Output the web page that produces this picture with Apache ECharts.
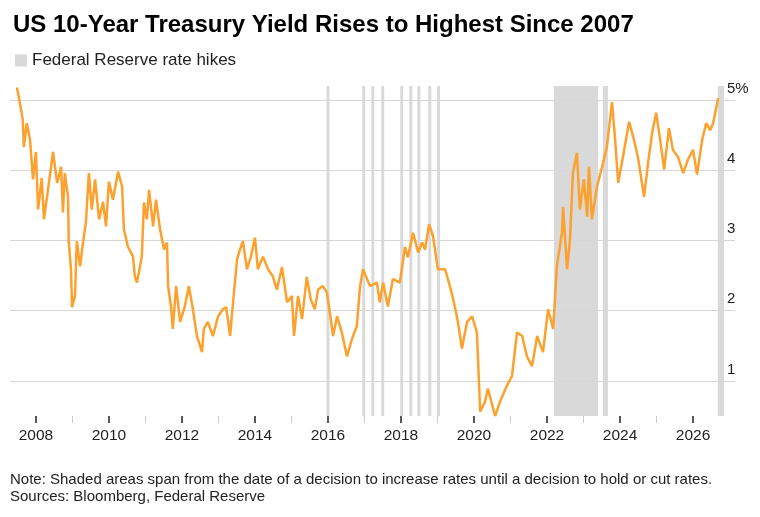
<!DOCTYPE html>
<html><head><meta charset="utf-8">
<script src="https://cdn.jsdelivr.net/npm/echarts@6/dist/echarts.min.js"></script>
<style>body{margin:0;background:#fff}#c{width:760px;height:517px}</style></head>
<body><div id="c"></div>
<script>
const years = [2007.48,2007.56,2007.64,2007.67,2007.75,2007.84,2007.92,2008.00,2008.06,2008.16,2008.22,2008.33,2008.47,2008.58,2008.69,2008.74,2008.79,2008.88,2008.90,2008.96,2008.99,2009.07,2009.12,2009.21,2009.29,2009.37,2009.45,2009.53,2009.62,2009.73,2009.84,2009.92,2010.00,2010.11,2010.25,2010.36,2010.41,2010.52,2010.66,2010.71,2010.77,2010.90,2010.96,2011.04,2011.10,2011.21,2011.29,2011.40,2011.51,2011.59,2011.62,2011.70,2011.75,2011.84,2011.95,2012.08,2012.19,2012.30,2012.41,2012.55,2012.60,2012.71,2012.85,2012.99,2013.12,2013.21,2013.32,2013.40,2013.51,2013.59,2013.67,2013.78,2013.89,2014.00,2014.08,2014.22,2014.36,2014.49,2014.60,2014.74,2014.88,2015.01,2015.07,2015.18,2015.29,2015.42,2015.53,2015.64,2015.73,2015.86,2015.97,2016.05,2016.14,2016.25,2016.38,2016.52,2016.66,2016.79,2016.88,2016.96,2017.15,2017.34,2017.42,2017.51,2017.64,2017.78,2017.97,2018.11,2018.19,2018.33,2018.47,2018.58,2018.66,2018.77,2018.88,2019.01,2019.21,2019.34,2019.45,2019.56,2019.67,2019.81,2019.95,2020.08,2020.17,2020.30,2020.38,2020.58,2020.71,2020.90,2021.04,2021.18,2021.32,2021.45,2021.59,2021.73,2021.89,2022.03,2022.17,2022.27,2022.41,2022.44,2022.55,2022.63,2022.71,2022.82,2022.90,2023.01,2023.10,2023.15,2023.23,2023.37,2023.51,2023.64,2023.78,2023.86,2023.95,2024.08,2024.25,2024.36,2024.49,2024.66,2024.77,2024.88,2024.99,2025.10,2025.21,2025.34,2025.45,2025.59,2025.73,2025.86,2026.00,2026.11,2026.25,2026.36,2026.47,2026.55,2026.69];
const yields = [5.18,4.96,4.72,4.33,4.67,4.43,3.87,4.26,3.44,3.89,3.30,3.72,4.26,3.82,4.05,3.40,3.96,3.62,2.97,2.59,2.05,2.21,2.99,2.63,2.97,3.26,3.96,3.44,3.87,3.30,3.55,3.20,3.84,3.58,3.98,3.77,3.16,2.91,2.77,2.49,2.40,2.77,3.54,3.30,3.72,3.20,3.58,3.16,2.87,2.97,2.35,2.06,1.74,2.35,1.84,2.06,2.35,2.02,1.64,1.41,1.74,1.84,1.64,1.92,2.02,2.05,1.64,2.12,2.73,2.87,2.99,2.59,2.77,3.04,2.59,2.77,2.59,2.49,2.30,2.62,2.12,2.21,1.64,2.21,1.88,2.48,2.16,2.02,2.30,2.35,2.26,1.98,1.64,1.92,1.69,1.35,1.60,1.78,2.35,2.59,2.35,2.40,2.12,2.40,2.06,2.45,2.40,2.91,2.76,3.11,2.83,2.97,2.87,3.23,3.06,2.59,2.59,2.35,2.12,1.84,1.46,1.84,1.92,1.69,0.56,0.70,0.89,0.50,0.70,0.93,1.07,1.69,1.64,1.35,1.21,1.64,1.41,2.02,1.74,2.63,3.11,3.48,2.59,3.01,3.96,4.25,3.44,3.87,3.34,4.05,3.30,3.77,4.05,4.33,4.97,4.48,3.82,4.19,4.69,4.48,4.19,3.62,4.11,4.53,4.82,4.43,4.01,4.60,4.29,4.19,3.96,4.15,4.29,3.94,4.43,4.67,4.57,4.67,5.03];
const hikeStarts = [2015.96,2016.94,2017.19,2017.46,2017.98,2018.23,2018.45,2018.75,2018.99,2022.19,2023.53,2026.68];
const hikeEnds   = [2016.04,2017.02,2017.27,2017.54,2018.06,2018.31,2018.53,2018.83,2019.07,2023.40,2023.67,2026.85];
const majorYears = [2008,2010,2012,2014,2016,2018,2020,2022,2024,2026];
const minorYears = [2009,2011,2013,2015,2017,2019,2021,2023,2025];
const yTicks = [1,2,3,4,5];

const chart = echarts.init(document.getElementById('c'));
const font = 'Liberation Sans, Arial, sans-serif';
chart.setOption({
  animation:false,
  textStyle:{fontFamily:font},
  title:{text:'US 10-Year Treasury Yield Rises to Highest Since 2007',left:8,top:8,
    textStyle:{fontSize:24,fontWeight:'bold',color:'#000',fontFamily:font}},
  legend:{left:10,top:47,itemWidth:12,itemHeight:12,icon:'rect',itemGap:8,
    textStyle:{fontSize:17,color:'#222'},data:[{name:'Federal Reserve rate hikes',itemStyle:{color:'#d9d9d9'}}]},
  graphic:[
    {type:'text',left:10,top:472,style:{text:'Note: Shaded areas span from the date of a decision to increase rates until a decision to hold or cut rates.',fontSize:15,fill:'#222',fontFamily:font}},
    {type:'text',left:10,top:489,style:{text:'Sources: Bloomberg, Federal Reserve',fontSize:15,fill:'#222',fontFamily:font}}
  ],
  grid:{left:10,right:25,top:86,bottom:101},
  xAxis:[{type:'value',min:2007.29,max:2027.15,
    axisLine:{show:false},splitLine:{show:false},
    axisTick:{show:true,length:7,customValues:majorYears,lineStyle:{color:'#222',width:1.5}},
    axisLabel:{customValues:majorYears,fontSize:15.5,color:'#222',margin:12,formatter:v=>String(v)}},
   {type:'value',min:2007.29,max:2027.15,position:'bottom',
    axisLine:{show:false},splitLine:{show:false},axisLabel:{show:false},
    axisTick:{show:true,length:7,customValues:minorYears,lineStyle:{color:'#ccc',width:1}}}],
  yAxis:{type:'value',min:0.5,max:5.2,position:'right',
    axisLine:{show:false},axisTick:{show:false},splitLine:{show:false},
    axisLabel:{customValues:yTicks,fontSize:15,color:'#222',margin:-8,align:'left',verticalAlign:'bottom',padding:[0,0,4,0],
      formatter:v=>v===5?'5%':String(v)}},
  series:[
    {name:'Federal Reserve rate hikes',type:'line',data:[],silent:true,
     markArea:{silent:true,itemStyle:{color:'#d9d9d9'},
       data:hikeStarts.map((s,i)=>[{xAxis:s,yAxis:0.5},{xAxis:hikeEnds[i],yAxis:5.2}])},
     markLine:{silent:true,symbol:'none',label:{show:false},lineStyle:{color:'#d6d6d6',type:'solid',width:1.2},
       data:yTicks.map(v=>({yAxis:v}))}},
    {name:'yield',type:'line',data:years.map((y,i)=>[y,yields[i]]),showSymbol:false,
     lineStyle:{color:'#fca02e',width:2.5},itemStyle:{color:'#fca02e'},z:5}
  ]
});
</script></body></html>
